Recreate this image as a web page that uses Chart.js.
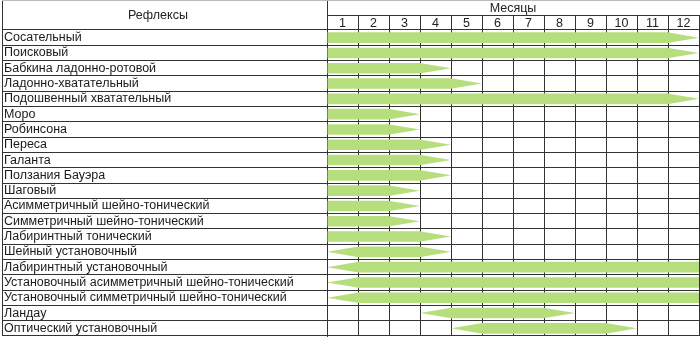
<!DOCTYPE html>
<html>
<head>
<meta charset="utf-8">
<script src="https://cdn.jsdelivr.net/npm/chart.js@4/dist/chart.umd.min.js"></script>
<style>
  body { margin: 0; background: #fff; }
  #wrap { width: 700px; height: 337px; position: relative; }
</style>
</head>
<body>
<div id="wrap"><canvas id="reflexChart"></canvas></div>
<script>
// Reflexes and the months during which they are present.
const reflexes = [
  'Сосательный', 'Поисковый', 'Бабкина ладонно-ротовой', 'Ладонно-хватательный',
  'Подошвенный хватательный', 'Моро', 'Робинсона', 'Переса', 'Галанта',
  'Ползания Бауэра', 'Шаговый', 'Асимметричный шейно-тонический',
  'Симметричный шейно-тонический', 'Лабиринтный тонический', 'Шейный установочный',
  'Лабиринтный установочный', 'Установочный асимметричный шейно-тонический',
  'Установочный симметричный шейно-тонический', 'Ландау', 'Оптический установочный'
];
const months = ['1', '2', '3', '4', '5', '6', '7', '8', '9', '10', '11', '12'];

// start / end month of each arrow
const starts = [0, 0, 0, 0, 0, 0, 0, 0, 0, 0, 0, 0, 0, 0, 0, 0, 0, 0, 3, 4];
const ends = [12, 12, 4, 5, 12, 3, 3, 4, 4, 4, 3, 3, 3, 4, 4, 12, 12, 12, 8, 10];
// whether the arrow has a pointed end on the left / right
const leftHead = [0, 0, 0, 0, 0, 0, 0, 0, 0, 0, 0, 0, 0, 0, 1, 1, 1, 1, 1, 1];
const rightHead = [1, 1, 1, 1, 1, 1, 1, 1, 1, 1, 1, 1, 1, 1, 1, 0, 0, 0, 1, 1];

const HEAD = 1; // length of a point, in months
const GREEN = 'rgb(183, 222, 124)';
const LINE = '#333';
const FONT = 'Liberation Sans, Arial, sans-serif';

// bar body = arrow without its points
const bodies = starts.map((s, i) => [s + leftHead[i] * HEAD, ends[i] - rightHead[i] * HEAD]);

// Draw the triangular points next to each bar body.
const arrowHeads = {
  id: 'arrowHeads',
  afterDatasetsDraw(chart) {
    const ctx = chart.ctx;
    const xs = chart.scales.x;
    const meta = chart.getDatasetMeta(0);
    ctx.save();
    ctx.fillStyle = GREEN;
    meta.data.forEach((bar, i) => {
      const top = bar.y - bar.height / 2;
      const bottom = bar.y + bar.height / 2;
      if (rightHead[i]) {
        const tip = xs.getPixelForValue(ends[i]);
        ctx.beginPath();
        ctx.moveTo(bar.x - 0.5, top);
        ctx.lineTo(tip, bar.y);
        ctx.lineTo(bar.x - 0.5, bottom);
        ctx.closePath();
        ctx.fill();
      }
      if (leftHead[i]) {
        const tip = xs.getPixelForValue(starts[i]);
        ctx.beginPath();
        ctx.moveTo(bar.base + 0.5, top);
        ctx.lineTo(tip, bar.y);
        ctx.lineTo(bar.base + 0.5, bottom);
        ctx.closePath();
        ctx.fill();
      }
    });
    ctx.restore();
  }
};

// Table frame and header cells.
const tableFrame = {
  id: 'tableFrame',
  afterDraw(chart) {
    const ctx = chart.ctx;
    const area = chart.chartArea;
    const mid = Math.round(area.top / 2) + 0.5;
    ctx.save();
    ctx.lineWidth = 1;
    ctx.strokeStyle = LINE;
    ctx.beginPath();
    // line under "Месяцы"
    ctx.moveTo(area.left, mid);
    ctx.lineTo(area.right, mid);
    // separator of label column in header
    ctx.moveTo(Math.round(area.left) + 0.5, 0);
    ctx.lineTo(Math.round(area.left) + 0.5, area.top);
    // left border
    ctx.moveTo(2.5, 0);
    ctx.lineTo(2.5, area.bottom);
    ctx.stroke();
    // top border
    ctx.strokeStyle = '#bbb';
    ctx.beginPath();
    ctx.moveTo(2, 0.5);
    ctx.lineTo(area.right + 1, 0.5);
    ctx.stroke();

    ctx.fillStyle = '#222';
    ctx.font = '12.5px ' + FONT;
    ctx.textAlign = 'center';
    ctx.textBaseline = 'middle';
    ctx.fillText('Рефлексы', 158, 16);
    ctx.restore();
  }
};

const ctx = document.getElementById('reflexChart').getContext('2d');

const reflexChart = new Chart(ctx, {
  type: 'bar',
  data: {
    labels: reflexes,
    datasets: [{
      data: bodies,
      backgroundColor: GREEN,
      borderWidth: 0,
      barPercentage: 0.69,
      categoryPercentage: 1
    }]
  },
  options: {
    indexAxis: 'y',
    responsive: true,
    maintainAspectRatio: false,
    animation: false,
    layout: { padding: { left: 4, right: 1, top: 0, bottom: 1 } },
    plugins: {
      legend: { display: false },
      tooltip: { enabled: false }
    },
    scales: {
      x: {
        type: 'linear',
        position: 'bottom',
        min: 0,
        max: 12,
        ticks: { display: false, stepSize: 1 },
        grid: { color: LINE, drawTicks: false },
        border: { display: false },
        afterFit(scale) { scale.height = 0; }
      },
      x2: {
        type: 'category',
        position: 'top',
        labels: months,
        offset: true,
        grid: { offset: true, drawOnChartArea: false, drawTicks: true, tickLength: 15, color: LINE },
        border: { display: false },
        ticks: { color: '#222', font: { family: FONT, size: 12.5 }, padding: -16, maxRotation: 0, autoSkip: false },
        title: { display: true, text: 'Месяцы', color: '#222', font: { family: FONT, size: 12.5 }, padding: { top: 1, bottom: 0 } },
        afterFit(scale) { scale.height = 30; }
      },
      y: {
        type: 'category',
        position: 'left',
        offset: true,
        grid: { offset: true, color: LINE, tickLength: 325 },
        border: { color: LINE },
        ticks: { color: '#1a1a1a', crossAlign: 'far', font: { family: FONT, size: 12.5 }, autoSkip: false },
        afterFit(scale) {
          scale.width = 323;
          scale.paddingTop = 0;
          scale.paddingBottom = 0;
        }
      }
    }
  },
  plugins: [arrowHeads, tableFrame]
});
</script>
</body>
</html>
